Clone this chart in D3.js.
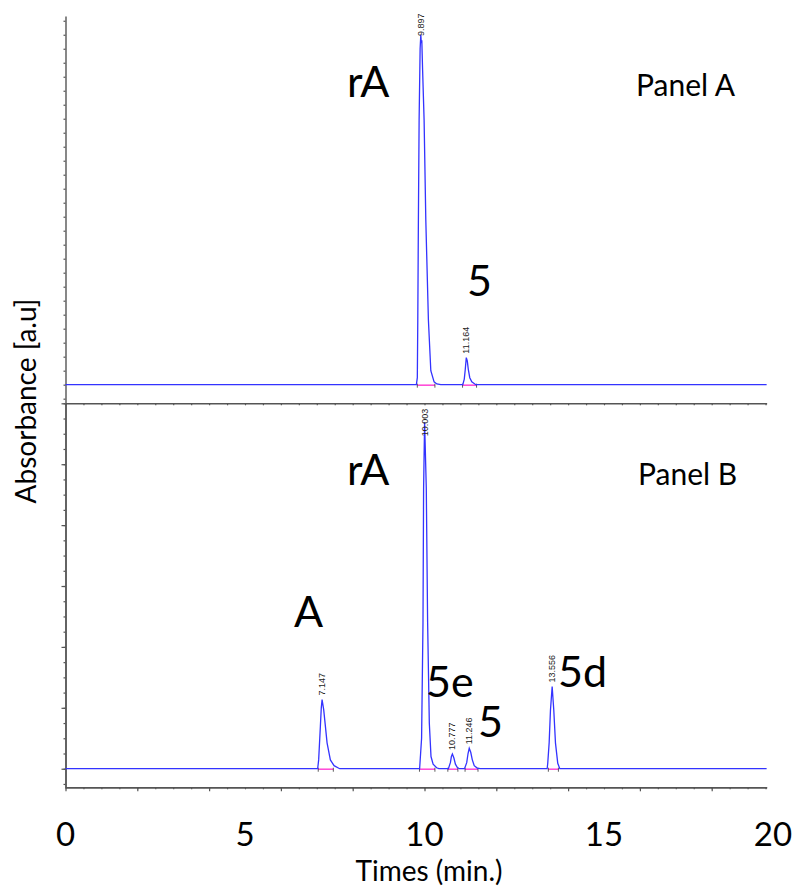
<!DOCTYPE html>
<html><head><meta charset="utf-8">
<script src="https://cdn.jsdelivr.net/npm/d3@7"></script>
<style>
html,body{margin:0;padding:0;background:#fff;}
svg{display:block;font-family:Lato,"Open Sans",sans-serif;}
</style></head>
<body>
<svg id="chart" width="797" height="888"></svg>
<script>
// ---------- DATA ----------
const timeTickLabels = [0, 5, 10, 15, 20];
const timeEnd = 19.53;

// Panel A trace: [time (min), absorbance]
const traceA = [
  [0,0],[9.774,0],[9.800,5],[9.813,46],[9.830,118],[9.850,189],[9.878,240],[9.897,250],
  [9.911,244],[9.925,246],[9.947,225],[9.989,189],[10.036,118],[10.109,46],[10.176,10],
  [10.267,2],[10.343,0.5],[10.454,0],
  [11.067,0],[11.108,4],[11.136,11],[11.164,19.3],[11.192,17],[11.220,11],[11.261,5],
  [11.317,2],[11.429,0],[19.53,0]
];
// Panel B trace
const traceB = [
  [0,0],[7.024,0],[7.052,2.9],[7.100,14],[7.125,20],[7.147,22.7],[7.192,19.4],[7.239,14],
  [7.286,8.5],[7.378,2.9],[7.481,1],[7.637,0],
  [9.864,0],[9.919,10],[9.958,48],[9.975,92],[10.003,113.8],[10.050,92],[10.087,48],
  [10.134,15],[10.181,4],[10.240,1.5],[10.337,0.3],[10.40,0],
  [10.666,0],[10.721,2],[10.749,4],[10.777,4.8],[10.819,3.5],[10.861,1.5],[10.916,0.4],[10.972,0],
  [11.115,0],[11.176,2],[11.213,5],[11.246,6.7],[11.288,5.4],[11.330,3],[11.385,1],[11.469,0.2],[11.552,0],
  [13.417,0],[13.433,1.8],[13.472,8.5],[13.509,19.3],[13.556,27],[13.601,19.3],[13.648,8.5],
  [13.712,1.8],[13.768,0],[19.53,0]
];

// Integration windows [start, end]
const integA = [[9.80,10.29],[11.06,11.45]];
const integB = [[7.04,7.46],[9.86,10.29],[10.65,10.93],[11.13,11.49],[13.45,13.73]];

// Peak retention-time labels [time, label, apex value]
const peaksA = [[9.897,"9.897",250],[11.164,"11.164",19.3]];
const peaksB = [[7.147,"7.147",22.7],[10.003,"10.003",113.8],[10.777,"10.777",4.8],[11.246,"11.246",6.7],[13.556,"13.556",27]];

// Compound annotations [text, x, baseline y]
const namesA = [["rA",347,97],["5",467,296]];
const namesB = [["rA",347,485],["A",294,627],["5e",426,697],["5",478,737],["5d",558,687]];
const panelTitles = [["Panel A",636,96],["Panel B",638,485]];

// ---------- SCALES ----------
const svg = d3.select("#chart");
const x = d3.scaleLinear().domain([0,20]).range([65.5,783.5]);
const yA = d3.scaleLinear().domain([-13.3,263.4]).range([403.3,16]);
const yB = d3.scaleLinear().domain([-6.1,120]).range([787.3,403.3]);
const axisColor = "#555";
const blue = "#3333ff";

function styleAxis(g){
  g.selectAll("path.domain").attr("stroke",axisColor).attr("stroke-width",1.4);
  g.selectAll(".tick line").attr("stroke",axisColor).attr("stroke-width",1.2);
  g.selectAll(".tick text").remove();
}
const xAx = x.copy().domain([0,timeEnd]).range([x(0),x(timeEnd)]);
const minorT = d3.range(0,timeEnd,0.5);
const majorT = d3.range(0,timeEnd,2);

// Panel A left axis
svg.append("g").attr("transform",`translate(${x(0)},0)`)
  .call(d3.axisLeft(yA).tickValues(d3.range(-10,261,10)).tickSize(2).tickSizeOuter(0)).call(styleAxis);
// Panel B left axis
svg.append("g").attr("transform",`translate(${x(0)},0)`)
  .call(d3.axisLeft(yB).tickValues(d3.range(-5,121,5)).tickSize(2).tickSizeOuter(0)).call(styleAxis);
svg.append("g").attr("transform",`translate(${x(0)},0)`)
  .call(d3.axisLeft(yB).tickValues(d3.range(0,121,20)).tickSize(4).tickSizeOuter(0)).call(styleAxis);
// middle axis (panel A bottom / panel B top)
svg.append("g").attr("transform",`translate(0,${yA(-13.3)})`)
  .call(d3.axisBottom(xAx).tickValues(minorT).tickSize(2).tickSizeOuter(0)).call(styleAxis);
// bottom axis
svg.append("g").attr("transform",`translate(0,${yB(-6.1)})`)
  .call(d3.axisBottom(xAx).tickValues(minorT).tickSize(2).tickSizeOuter(0)).call(styleAxis);
svg.append("g").attr("transform",`translate(0,${yB(-6.1)})`)
  .call(d3.axisBottom(xAx).tickValues(majorT).tickSize(4).tickSizeOuter(0)).call(styleAxis);

// ---------- TRACES ----------
function drawPanel(trace, y, integ, peaks, topLimit){
  svg.append("g").selectAll("line").data(integ).join("line")
    .attr("x1",d=>x(d[0])).attr("x2",d=>x(d[1]))
    .attr("y1",y(0)+0.5).attr("y2",y(0)+0.5)
    .attr("stroke","#ff4fd8").attr("stroke-width",1.6);
  const marks = integ.flatMap(d=>[d[0],d[1]]);
  svg.append("g").selectAll("line").data(marks).join("line")
    .attr("x1",d=>x(d)).attr("x2",d=>x(d))
    .attr("y1",y(0)-1).attr("y2",y(0)+3)
    .attr("stroke","#333").attr("stroke-width",0.8);
  svg.append("path").datum(trace)
    .attr("d",d3.line().x(d=>x(d[0])).y(d=>y(d[1])))
    .attr("fill","none").attr("stroke",blue).attr("stroke-width",1.3);
  svg.append("g").selectAll("text").data(peaks).join("text")
    .attr("transform",d=>{
      const w = d[1].length*5.2;
      let bottom = y(d[2])-4;
      if (bottom - w < topLimit) bottom = topLimit + w;
      return `translate(${x(d[0])+3},${bottom}) rotate(-90)`;
    })
    .attr("font-family","Liberation Sans, Arial, sans-serif")
    .attr("font-size",9).attr("fill","#222").text(d=>d[1]);
}
drawPanel(traceA, yA, integA, peaksA, 10);
drawPanel(traceB, yB, integB, peaksB, 405);

// ---------- TEXT ----------
svg.append("g").selectAll("text").data(namesA.concat(namesB)).join("text")
  .attr("x",d=>d[1]).attr("y",d=>d[2]).attr("font-size",43).attr("fill","#000").text(d=>d[0]);
svg.append("g").selectAll("text").data(panelTitles).join("text")
  .attr("x",d=>d[1]).attr("y",d=>d[2]).attr("font-size",30).attr("fill","#000").text(d=>d[0]);

svg.append("g").selectAll("text").data(timeTickLabels).join("text")
  .attr("x",d=>Math.min(x(d), 792 - String(d).length*9.5))
  .attr("y",846).attr("text-anchor","middle")
  .attr("font-size",33).attr("fill","#000").text(d=>d);
svg.append("text").attr("x",429).attr("y",881).attr("text-anchor","middle")
  .attr("font-size",28).attr("fill","#000").text("Times (min.)");
svg.append("text").attr("transform","translate(36,401) rotate(-90)").attr("text-anchor","middle")
  .attr("font-size",28).attr("fill","#000").text("Absorbance [a.u]");
</script>
</body></html>
